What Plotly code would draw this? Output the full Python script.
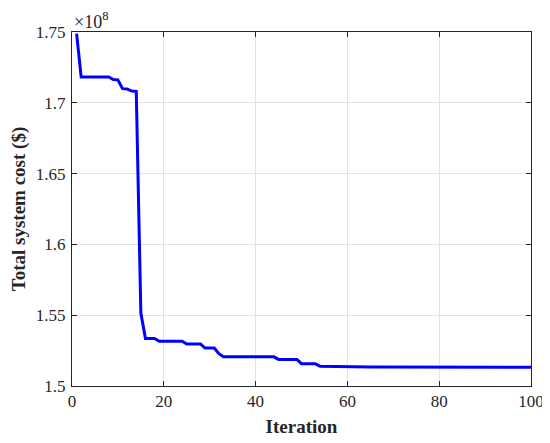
import plotly.graph_objects as go

iterations = list(range(1, 101))
# Total system cost in units of 1e8 $
cost = [
    1.7489, 1.7182, 1.7182, 1.7182, 1.7182, 1.7182, 1.7182, 1.7182, 1.7164, 1.7162,
    1.7100, 1.7098, 1.7083, 1.7081, 1.5515, 1.5335, 1.5335, 1.5335, 1.5316, 1.5316,
    1.5316, 1.5316, 1.5316, 1.5316, 1.5297, 1.5296, 1.5296, 1.5296, 1.5268, 1.5268,
    1.5268, 1.5228, 1.5206, 1.5206, 1.5206, 1.5206, 1.5206, 1.5206, 1.5206, 1.5206,
    1.5206, 1.5206, 1.5206, 1.5206, 1.5188, 1.5188, 1.5188, 1.5188, 1.5188, 1.5158,
    1.5158, 1.5158, 1.5158, 1.5140, 1.5139, 1.5138, 1.5137, 1.5136, 1.5135, 1.5134,
    1.5134, 1.5134, 1.5134, 1.5134, 1.5134, 1.5134, 1.5134, 1.5134, 1.5134, 1.5134,
    1.5134, 1.5134, 1.5134, 1.5134, 1.5134, 1.5134, 1.5134, 1.5134, 1.5134, 1.5134,
    1.5133, 1.5133, 1.5133, 1.5133, 1.5133, 1.5133, 1.5133, 1.5133, 1.5133, 1.5133,
    1.5132, 1.5132, 1.5132, 1.5132, 1.5132, 1.5132, 1.5132, 1.5132, 1.5132, 1.5132,
]
x_ticks = [0, 20, 40, 60, 80, 100]
y_ticks = [1.5, 1.55, 1.6, 1.65, 1.7, 1.75]
y_tick_labels = ["1.5", "1.55", "1.6", "1.65", "1.7", "1.75"]

FONT = "Liberation Serif"
AXIS_COLOR = "#262626"
GRID_COLOR = "#e3e3e3"

fig = go.Figure()
fig.add_trace(go.Scatter(
    x=iterations, y=cost, mode="lines",
    line=dict(color="#0000ff", width=3),
    showlegend=False,
))

# The page body has an 8px default margin, so the figure is sized to fit
# inside the 550x443 window with that offset.
fig.update_layout(
    width=542, height=435,
    margin=dict(l=64, r=19, t=24, b=57),
    paper_bgcolor="white", plot_bgcolor="white",
    font=dict(family=FONT, color="#262626", size=17),
    xaxis=dict(
        range=[0, 100], tickvals=x_ticks, automargin=False,
        showline=True, linecolor=AXIS_COLOR, linewidth=1, mirror="ticks",
        ticks="inside", ticklen=5, tickcolor=AXIS_COLOR,
        showgrid=True, gridcolor=GRID_COLOR, zeroline=False,
        tickfont=dict(family=FONT, size=17, color="#262626"),
        title=dict(text="<b>Iteration</b>", font=dict(family=FONT, size=19), standoff=9),
    ),
    yaxis=dict(
        range=[1.5, 1.75], tickvals=y_ticks, ticktext=y_tick_labels, automargin=False,
        showline=True, linecolor=AXIS_COLOR, linewidth=1, mirror="ticks",
        ticks="inside", ticklen=5, tickcolor=AXIS_COLOR, ticklabelstandoff=2,
        showgrid=True, gridcolor=GRID_COLOR, zeroline=False,
        tickfont=dict(family=FONT, size=17, color="#262626"),
        title=dict(text="<b>Total system cost ($)</b>", font=dict(family=FONT, size=19), standoff=6),
    ),
    annotations=[dict(
        text="×10<sup>8</sup>", xref="paper", yref="paper",
        x=0.0, y=1.0, xanchor="left", yanchor="bottom", yshift=-2,
        showarrow=False, font=dict(family=FONT, size=18, color="#262626"),
    )],
)

fig.write_html("out.html")
